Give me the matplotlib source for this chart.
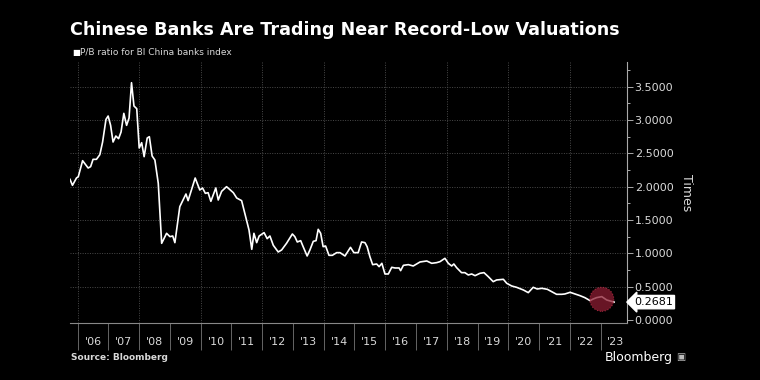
import matplotlib
matplotlib.use("Agg")
import matplotlib.pyplot as plt
from matplotlib.ticker import FixedLocator, NullFormatter, FuncFormatter

# ---- data ----
years = [2005.75, 2005.83, 2005.96, 2006.02, 2006.16, 2006.34, 2006.42, 2006.50, 2006.61, 2006.72,
         2006.81, 2006.92, 2006.99, 2007.07, 2007.15, 2007.24, 2007.33, 2007.41, 2007.50, 2007.59,
         2007.67, 2007.75, 2007.83, 2007.92, 2008.00, 2008.08, 2008.16, 2008.26, 2008.33, 2008.42,
         2008.51, 2008.62, 2008.73, 2008.89, 2009.00, 2009.09, 2009.16, 2009.32, 2009.52, 2009.59,
         2009.82, 2009.97, 2010.06, 2010.15, 2010.24, 2010.33, 2010.49, 2010.57, 2010.68, 2010.84,
         2011.06, 2011.17, 2011.33, 2011.49, 2011.57, 2011.66, 2011.73, 2011.82, 2011.90, 2012.06,
         2012.16, 2012.25, 2012.36, 2012.52, 2012.63, 2012.79, 2012.98, 2013.06, 2013.14, 2013.25,
         2013.33, 2013.46, 2013.55, 2013.66, 2013.75, 2013.82, 2013.90, 2013.98, 2014.06, 2014.17,
         2014.28, 2014.42, 2014.53, 2014.69, 2014.87, 2014.98, 2015.12, 2015.23, 2015.34, 2015.41,
         2015.50, 2015.59, 2015.72, 2015.80, 2015.89, 2015.99, 2016.10, 2016.21, 2016.32, 2016.45,
         2016.50, 2016.59, 2016.75, 2016.91, 2017.13, 2017.35, 2017.51, 2017.67, 2017.78, 2017.94,
         2018.05, 2018.16, 2018.23, 2018.32, 2018.48, 2018.59, 2018.70, 2018.81, 2018.92, 2019.08,
         2019.21, 2019.35, 2019.51, 2019.62, 2019.84, 2019.95, 2020.11, 2020.27, 2020.49, 2020.65,
         2020.81, 2020.94, 2021.09, 2021.27, 2021.41, 2021.57, 2021.74, 2021.84, 2022.01, 2022.17,
         2022.33, 2022.49, 2022.66, 2022.74, 2022.87, 2023.04, 2023.20, 2023.44]
pb_ratio = [2.11, 2.02, 2.13, 2.15, 2.39, 2.28, 2.30, 2.41, 2.41, 2.48,
            2.67, 3.01, 3.06, 2.92, 2.67, 2.76, 2.72, 2.82, 3.10, 2.92,
            3.03, 3.56, 3.21, 3.17, 2.58, 2.66, 2.45, 2.73, 2.75, 2.46,
            2.40, 2.05, 1.15, 1.30, 1.25, 1.26, 1.16, 1.70, 1.89, 1.79,
            2.13, 1.95, 1.98, 1.90, 1.91, 1.78, 1.98, 1.80, 1.93, 2.00,
            1.91, 1.83, 1.79, 1.50, 1.35, 1.06, 1.30, 1.16, 1.26, 1.31,
            1.22, 1.26, 1.12, 1.02, 1.05, 1.15, 1.29, 1.25, 1.17, 1.19,
            1.10, 0.96, 1.05, 1.18, 1.19, 1.36, 1.30, 1.10, 1.11, 0.97,
            0.97, 1.01, 1.01, 0.96, 1.09, 1.01, 1.01, 1.17, 1.16, 1.10,
            0.95, 0.83, 0.84, 0.80, 0.85, 0.69, 0.69, 0.79, 0.78, 0.78,
            0.74, 0.82, 0.83, 0.81, 0.87, 0.885, 0.85, 0.86, 0.875, 0.925,
            0.85, 0.81, 0.84, 0.785, 0.71, 0.71, 0.675, 0.69, 0.665, 0.70,
            0.71, 0.65, 0.575, 0.60, 0.61, 0.55, 0.51, 0.49, 0.45, 0.41,
            0.49, 0.465, 0.475, 0.46, 0.425, 0.385, 0.385, 0.39, 0.415, 0.39,
            0.365, 0.335, 0.29, 0.31, 0.335, 0.35, 0.30, 0.2681]
last_value = 0.2681
highlight_year = 2023.04
highlight_value = 0.31
year_labels = ["'06", "'07", "'08", "'09", "'10", "'11", "'12", "'13", "'14",
               "'15", "'16", "'17", "'18", "'19", "'20", "'21", "'22", "'23"]
first_label_year = 2006

bg = "black"
fg = "#d9d9d9"
grid_c = "#4a4a4a"

fig = plt.figure(figsize=(7.6, 3.8), dpi=100, facecolor=bg)
ax = fig.add_axes([70 / 760, (380 - 323.3) / 380, (627 - 70) / 760, (323.3 - 61.7) / 380])
ax.set_facecolor(bg)

ax.plot(years, pb_ratio, color="white", lw=1.2, zorder=3)
ax.scatter([highlight_year], [highlight_value], s=300, color="#8c1d32", alpha=0.75,
           edgecolors="#c0304a", linewidths=0.8, linestyle=":", zorder=4)

ax.set_xlim(2005.75, 2023.86)
ax.set_ylim(-0.05, 3.875)

# x axis: year boundaries as long ticks, labels in the middle
bounds = [first_label_year + i for i in range(len(year_labels) + 1)]
mids = [first_label_year + i + 0.5 for i in range(len(year_labels))]
ax.xaxis.set_major_locator(FixedLocator(bounds))
ax.xaxis.set_major_formatter(NullFormatter())
ax.xaxis.set_minor_locator(FixedLocator(mids))
ax.set_xticklabels(year_labels, minor=True)
ax.tick_params(axis="x", which="major", length=19.5, width=0.7, color="#666666")
ax.tick_params(axis="x", which="minor", length=0, pad=10, labelsize=8, labelcolor=fg)

# y axis on the right
ax.yaxis.tick_right()
ax.yaxis.set_label_position("right")
ax.set_yticks([0, 0.5, 1.0, 1.5, 2.0, 2.5, 3.0, 3.5])
ax.yaxis.set_minor_locator(FixedLocator([0.25, 0.75, 1.25, 1.75, 2.25, 2.75, 3.25, 3.75]))
ax.yaxis.set_major_formatter(FuncFormatter(lambda v, p: f"{v:.4f}"))
ax.tick_params(axis="y", which="major", length=4, width=0.7, color="#aaaaaa",
               labelsize=8, labelcolor=fg, pad=1.5)
ax.tick_params(axis="y", which="minor", length=2.5, width=0.7, color="#aaaaaa")
ax.set_ylabel("Times", color=fg, fontsize=9, rotation=270, labelpad=14)

# grid: dotted, horizontal each 0.5, vertical every two years
for v in [0.5, 1.0, 1.5, 2.0, 2.5, 3.0, 3.5]:
    ax.axhline(v, color=grid_c, lw=0.7, ls=(0, (1, 1.5)), zorder=1)
for yr in range(2006, 2024, 2):
    ax.axvline(yr, color=grid_c, lw=0.7, ls=(0, (1, 1.5)), zorder=1)

for side in ["top", "left"]:
    ax.spines[side].set_visible(False)
ax.spines["right"].set_color("#aaaaaa")
ax.spines["bottom"].set_color("#888888")
ax.spines["right"].set_linewidth(0.8)
ax.spines["bottom"].set_linewidth(0.8)

# last value tag
ax.annotate(f"{last_value:.4f}", xy=(1.0, last_value), xycoords=("axes fraction", "data"),
            xytext=(5, 0), textcoords="offset points", ha="left", va="center",
            fontsize=8, color="black",
            bbox=dict(boxstyle="larrow,pad=0.15", facecolor="white", edgecolor="white"))

# titles and footer
fig.text(70 / 760, 1 - 30 / 380, "Chinese Banks Are Trading Near Record-Low Valuations",
         color="white", fontsize=12.6, fontweight="bold", ha="left", va="center")
fig.text(72 / 760, 1 - 52 / 380, "\u25a0", color="white", fontsize=6, ha="left", va="center")
fig.text(80 / 760, 1 - 52 / 380, "P/B ratio for BI China banks index",
         color=fg, fontsize=6.5, ha="left", va="center")
fig.text(71 / 760, 1 - 358 / 380, "Source: Bloomberg", color=fg, fontsize=6.5,
         fontweight="bold", ha="left", va="center")
fig.text(673 / 760, 1 - 357 / 380, "Bloomberg", color="white", fontsize=9,
         ha="right", va="center")
fig.text(676 / 760, 1 - 357 / 380, "\u25a3", color="#bbbbbb", fontsize=7,
         ha="left", va="center")

fig.savefig("out.png", dpi=100, facecolor=bg)
